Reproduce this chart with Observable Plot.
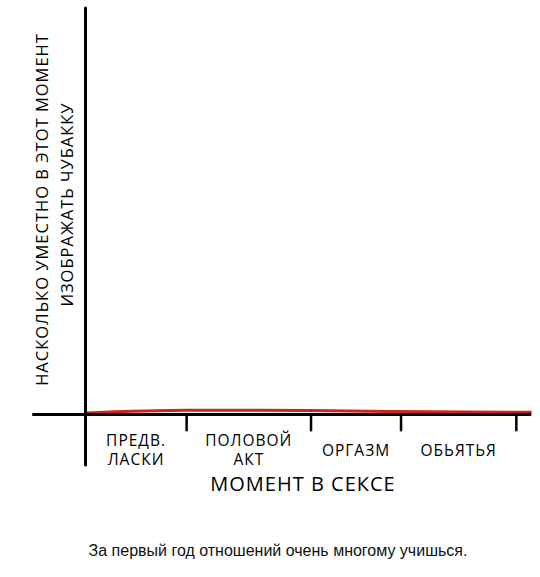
<!DOCTYPE html>
<html>
<head>
<meta charset="utf-8">
<script src="https://cdn.jsdelivr.net/npm/d3@7"></script>
<script src="https://cdn.jsdelivr.net/npm/@observablehq/plot@0.6"></script>
<style>
  html, body { margin: 0; padding: 0; background: #fff; }
  #chart svg { display: block; }
  #caption {
    width: 524px; padding-left: 16px; padding-top: 22px;
    text-align: center; font-family: "Liberation Sans", Arial, sans-serif;
    font-size: 16px; color: #111;
  }
</style>
</head>
<body>
<div id="chart"></div>
<div id="caption">За первый год отношений очень многому учишься.</div>
<script>
// Stages of the x axis and where each stage ends
const stages = ["ПРЕДВ.\nЛАСКИ", "ПОЛОВОЙ\nАКТ", "ОРГАЗМ", "ОБЬЯТЬЯ"];
const stageBounds = [0, 1, 2.23, 3.12, 4.26];

// "How appropriate it is to imitate Chewbacca" — always ~0
const curveX = [0, 0.45, 1, 1.5, 2.2, 3, 3.8, 4.4];
const curveY = [0.35, 0.85, 1.05, 1.1, 1.0, 0.75, 0.6, 0.55];

const xTitle = "МОМЕНТ В СЕКСЕ";
const yTitle1 = "НАСКОЛЬКО УМЕСТНО В ЭТОТ МОМЕНТ";
const yTitle2 = "ИЗОБРАЖАТЬ ЧУБАККУ";

const curve = curveX.map((x, i) => ({x, y: curveY[i]}));
const labels = stages.map((s, i) => ({label: s, x: (stageBounds[i] + stageBounds[i + 1]) / 2}));
const hand = "'Open Sans', Lato, sans-serif";

const chart = Plot.plot({
  width: 540,
  height: 520,
  marginLeft: 85,
  marginRight: 10,
  marginTop: 10,
  marginBottom: 106,
  x: {domain: [0, 4.4], axis: null},
  y: {domain: [0, 100], axis: null},
  style: {fontFamily: hand, color: "#000", background: "#fff", letterSpacing: "1px"},
  marks: [
    // red curve
    Plot.line(curve, {x: "x", y: "y", stroke: "#d42020", strokeWidth: 3, curve: "basis", strokeLinecap: "round"}),
    // y axis line (extends below the x axis)
    Plot.ruleX([0], {y1: -12.6, y2: 100.5, stroke: "#000", strokeWidth: 3, strokeLinecap: "round"}),
    // x axis line (extends left of the y axis)
    Plot.ruleY([0], {x1: -0.51, x2: 4.4, stroke: "#000", strokeWidth: 3, strokeLinecap: "round"}),
    // stage boundary ticks
    Plot.ruleX(stageBounds.slice(1), {y1: 0, y2: -4, stroke: "#000", strokeWidth: 2.5, strokeLinecap: "round"}),
    // stage labels
    Plot.text(labels, {x: "x", y: 0, text: "label", dy: 35, lineAnchor: "middle", lineHeight: 1.25,
      fontSize: 15.5, fill: "#000"}),
    // x axis title
    Plot.text([xTitle], {frameAnchor: "bottom", dy: 76, dx: -5, fontSize: 20, fill: "#000"}),
    // y axis title (two lines)
    Plot.text([yTitle1], {frameAnchor: "left", textAnchor: "middle", rotate: -90, dx: -43, dy: -3, fontSize: 16.5, fill: "#000"}),
    Plot.text([yTitle2], {frameAnchor: "left", textAnchor: "middle", rotate: -90, dx: -18, dy: -8, fontSize: 16.5, fill: "#000"})
  ]
});
document.getElementById("chart").appendChild(chart);
</script>
</body>
</html>
